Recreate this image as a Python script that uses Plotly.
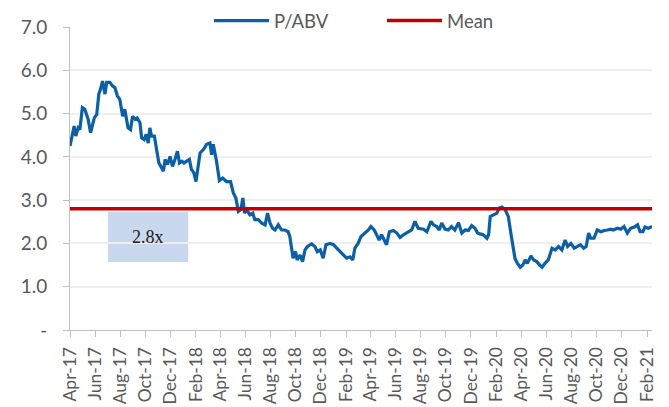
import plotly.graph_objects as go

dates = [
    "2017-04-01", "2017-04-11", "2017-04-15", "2017-04-21", "2017-04-25", "2017-05-01", "2017-05-07", "2017-05-11",
    "2017-05-15", "2017-05-21", "2017-05-25", "2017-05-30", "2017-06-05", "2017-06-10", "2017-06-14", "2017-06-19",
    "2017-06-25", "2017-06-29", "2017-07-07", "2017-07-13", "2017-07-19", "2017-07-25", "2017-07-31", "2017-08-07",
    "2017-08-12", "2017-08-16", "2017-08-20", "2017-08-26", "2017-08-31", "2017-09-06", "2017-09-11", "2017-09-18",
    "2017-09-22", "2017-09-28", "2017-10-03", "2017-10-08", "2017-10-12", "2017-10-16", "2017-10-23", "2017-10-29",
    "2017-11-03", "2017-11-10", "2017-11-14", "2017-11-18", "2017-11-24", "2017-11-30", "2017-12-06", "2017-12-12",
    "2017-12-18", "2017-12-23", "2017-12-29", "2018-01-03", "2018-01-09", "2018-01-16", "2018-01-21", "2018-01-27",
    "2018-02-01", "2018-02-05", "2018-02-11", "2018-02-19", "2018-02-27", "2018-03-07", "2018-03-11", "2018-03-15",
    "2018-03-23", "2018-03-30", "2018-04-07", "2018-04-16", "2018-04-26", "2018-05-03", "2018-05-09", "2018-05-15",
    "2018-05-21", "2018-05-26", "2018-05-30", "2018-06-04", "2018-06-12", "2018-06-19", "2018-06-24", "2018-07-02",
    "2018-07-11", "2018-07-19", "2018-07-25", "2018-07-31", "2018-08-06", "2018-08-12", "2018-08-20", "2018-08-28",
    "2018-09-05", "2018-09-13", "2018-09-17", "2018-09-22", "2018-09-25", "2018-10-01", "2018-10-05", "2018-10-12",
    "2018-10-18", "2018-10-24", "2018-10-30", "2018-11-09", "2018-11-17", "2018-11-23", "2018-11-30", "2018-12-07",
    "2018-12-14", "2018-12-24", "2019-01-01", "2019-01-09", "2019-01-17", "2019-01-24", "2019-02-02", "2019-02-10",
    "2019-02-17", "2019-02-22", "2019-03-02", "2019-03-09", "2019-03-19", "2019-03-27", "2019-04-02", "2019-04-10",
    "2019-04-16", "2019-04-22", "2019-04-28", "2019-05-04", "2019-05-10", "2019-05-17", "2019-05-27", "2019-06-04",
    "2019-06-12", "2019-06-20", "2019-06-28", "2019-07-10", "2019-07-18", "2019-07-26", "2019-08-08", "2019-08-16",
    "2019-08-26", "2019-09-01", "2019-09-09", "2019-09-15", "2019-09-21", "2019-09-29", "2019-10-07", "2019-10-15",
    "2019-10-23", "2019-11-01", "2019-11-09", "2019-11-17", "2019-11-25", "2019-12-03", "2019-12-11", "2019-12-17",
    "2019-12-23", "2019-12-31", "2020-01-09", "2020-01-13", "2020-01-17", "2020-01-25", "2020-02-02", "2020-02-08",
    "2020-02-14", "2020-02-22", "2020-03-01", "2020-03-07", "2020-03-12", "2020-03-17", "2020-03-23", "2020-03-30",
    "2020-04-05", "2020-04-11", "2020-04-16", "2020-04-25", "2020-05-01", "2020-05-09", "2020-05-16", "2020-05-22",
    "2020-05-29", "2020-06-06", "2020-06-15", "2020-06-23", "2020-07-01", "2020-07-09", "2020-07-17", "2020-07-23",
    "2020-07-31", "2020-08-08", "2020-08-16", "2020-08-23", "2020-08-31", "2020-09-06", "2020-09-12", "2020-09-17",
    "2020-09-25", "2020-10-03", "2020-10-12", "2020-10-20", "2020-10-28", "2020-11-05", "2020-11-11", "2020-11-21",
    "2020-11-29", "2020-12-07", "2020-12-15", "2020-12-23", "2021-01-01", "2021-01-09", "2021-01-15", "2021-01-22",
    "2021-01-27", "2021-02-04", "2021-02-13",
]

pabv = [
    4.25, 4.71, 4.48, 4.67, 4.63, 5.14, 5.10, 4.98,
    4.87, 4.56, 4.71, 4.90, 4.98, 5.45, 5.56, 5.75,
    5.45, 5.72, 5.72, 5.64, 5.60, 5.41, 5.33, 4.94,
    5.10, 4.90, 4.67, 4.63, 4.94, 4.87, 4.90, 4.79,
    4.44, 4.40, 4.52, 4.32, 4.67, 4.48, 4.48, 4.13,
    3.86, 3.74, 3.67, 3.94, 3.82, 4.01, 3.78, 3.94,
    4.13, 3.86, 3.90, 3.86, 3.90, 3.94, 3.71, 3.63,
    3.43, 3.71, 4.09, 4.17, 4.29, 4.32, 4.05, 4.29,
    3.90, 3.45, 3.51, 3.43, 3.43, 3.16, 3.05, 2.74,
    2.78, 3.05, 2.70, 2.78, 2.66, 2.70, 2.55, 2.55,
    2.47, 2.43, 2.70, 2.47, 2.35, 2.31, 2.43, 2.31,
    2.31, 2.27, 2.16, 1.85, 1.66, 1.81, 1.62, 1.73,
    1.58, 1.85, 1.93, 1.99, 1.93, 1.81, 1.85, 1.66,
    1.97, 2.00, 1.97, 1.89, 1.81, 1.73, 1.66, 1.69,
    1.62, 1.89, 2.00, 2.16, 2.24, 2.31, 2.39, 2.31,
    2.20, 2.08, 2.20, 2.08, 1.97, 2.27, 2.30, 2.24,
    2.14, 2.20, 2.24, 2.31, 2.51, 2.35, 2.33, 2.27,
    2.51, 2.43, 2.39, 2.31, 2.47, 2.33, 2.31, 2.39,
    2.31, 2.48, 2.24, 2.31, 2.30, 2.41, 2.35, 2.24,
    2.22, 2.20, 2.12, 2.20, 2.62, 2.66, 2.70, 2.82,
    2.84, 2.79, 2.62, 2.24, 1.93, 1.66, 1.54, 1.45,
    1.50, 1.62, 1.54, 1.71, 1.62, 1.58, 1.50, 1.45,
    1.54, 1.62, 1.89, 1.85, 1.93, 1.85, 2.08, 1.93,
    2.00, 1.89, 1.93, 1.97, 1.89, 1.93, 2.24, 2.12,
    2.12, 2.31, 2.27, 2.30, 2.31, 2.33, 2.31, 2.35,
    2.33, 2.39, 2.24, 2.35, 2.38, 2.43, 2.27, 2.27,
    2.38, 2.35, 2.39,
]

mean_value = 2.8
mean_label = "2.8x"
box_x = ["2017-07-02", "2018-01-13"]
box_y = [1.57, 2.73]

y_tickvals = [0, 1, 2, 3, 4, 5, 6, 7]
y_ticktext = ["-", "1.0", "2.0", "3.0", "4.0", "5.0", "6.0", "7.0"]

BLUE = "#0B5FA5"
RED = "#C00000"
GRAY_TXT = "#595959"
FS = 19
FS_X = 17.5

fig = go.Figure()
fig.add_trace(go.Scatter(
    x=dates, y=pabv, mode="lines", name="P/ABV",
    line=dict(color=BLUE, width=3.2),
))
fig.add_trace(go.Scatter(
    x=[dates[0], dates[-1]], y=[mean_value, mean_value], mode="lines", name="Mean",
    line=dict(color=RED, width=3.5),
))

fig.add_shape(type="rect", xref="x", yref="y",
              x0=box_x[0], x1=box_x[1], y0=box_y[0], y1=box_y[1],
              fillcolor="#C9D8EF", line=dict(width=0), layer="below")
fig.add_annotation(x="2017-10-07", y=(box_y[0] + box_y[1]) / 2, xref="x", yref="y",
                   text=mean_label, showarrow=False,
                   font=dict(family="Liberation Serif", size=18, color="#1a1a1a"))

fig.update_layout(
    width=669, height=407,
    margin=dict(l=70, r=17, t=27, b=77, autoexpand=False),
    paper_bgcolor="white", plot_bgcolor="white",
    font=dict(family="Lato", size=FS, color=GRAY_TXT),
    showlegend=True,
    legend=dict(orientation="h", xref="container", yref="container",
                x=209 / 669, xanchor="left", y=0.995, yanchor="top",
                itemwidth=55, entrywidth=103, font=dict(size=18.5, color=GRAY_TXT),
                bgcolor="rgba(0,0,0,0)", tracegroupgap=0),
)
fig.update_xaxes(
    type="date", range=[dates[0], dates[-1]], automargin=False,
    tick0="2017-04-01", dtick="M2", tickformat="%b-%y", tickangle=-90,
    showgrid=False, showline=True, linecolor="#BFBFBF", linewidth=1,
    ticks="outside", ticklen=6, tickcolor="#BFBFBF", ticklabelstandoff=3,
    tickfont=dict(family="Lato", size=FS_X, color=GRAY_TXT),
)
fig.update_yaxes(
    range=[0, 7], tickvals=y_tickvals, ticktext=y_ticktext, automargin=False,
    showgrid=True, gridcolor="#EFEFEF", gridwidth=1.5,
    showline=True, linecolor="#BFBFBF", linewidth=1,
    ticks="outside", ticklen=6, tickcolor="#BFBFBF", ticklabelstandoff=12,
    tickfont=dict(family="Lato", size=FS, color=GRAY_TXT),
    zeroline=False,
)

fig.write_html("out.html", config={"displayModeBar": False},
               post_script="document.body.style.margin='0';document.body.style.overflow='hidden';")
